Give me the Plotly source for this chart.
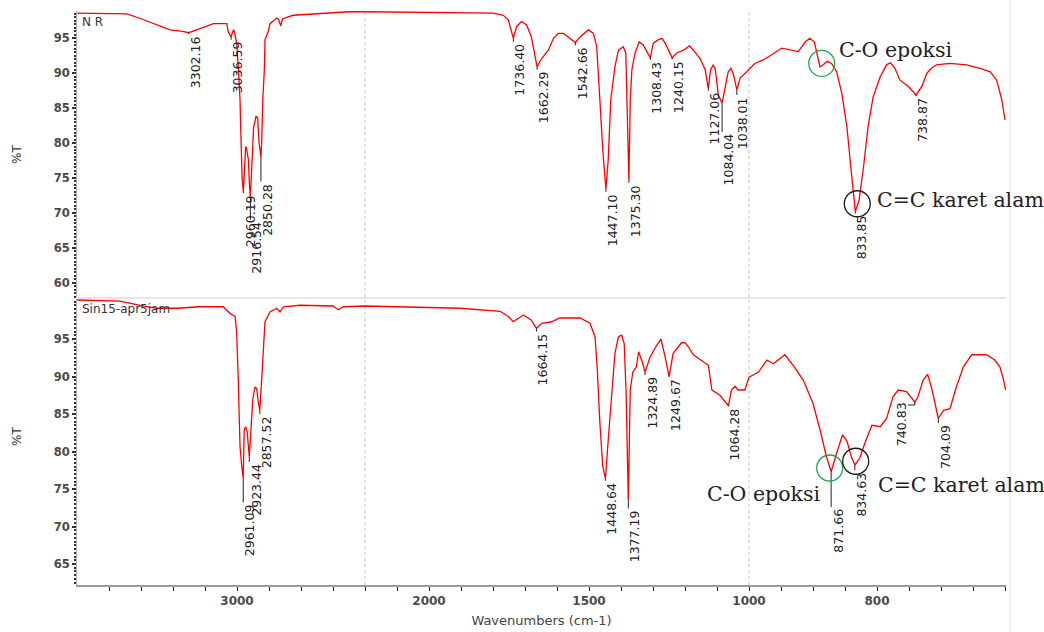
import numpy as np
import plotly.graph_objects as go

# ---------------- data ----------------
# NR spectrum: wavenumber (cm-1) and %T
nr_wn = [3998, 3850, 3689, 3600, 3502, 3419, 3340, 3302.16, 3231, 3148, 3064, 3054,
         3036.59, 3023, 3017, 3002, 2992, 2981, 2977, 2968, 2960.19, 2953, 2946, 2940,
         2929, 2922, 2916.54, 2910, 2902, 2896, 2881, 2871, 2862, 2850.28, 2845, 2839,
         2829, 2825, 2804, 2794, 2752, 2740, 2727, 2715, 2648, 2500, 2398, 2300, 2200,
         2028, 1872, 1799, 1768, 1752, 1736.40, 1726, 1711, 1695, 1680, 1662.29, 1648,
         1627, 1611, 1596, 1580, 1565, 1542.66, 1528, 1502, 1486, 1476, 1466, 1457,
         1447.10, 1440, 1432, 1419, 1408, 1393, 1385, 1382, 1375.30, 1371, 1366, 1356,
         1343, 1330, 1308.43, 1299, 1283, 1272, 1262, 1240.15, 1226, 1205, 1186, 1174,
         1153, 1137, 1127.06, 1120, 1112, 1105, 1096, 1084.04, 1075, 1065, 1056, 1049,
         1038.01, 1028, 1007, 991, 978, 965, 949, 936, 923, 912, 905, 898, 893, 889,
         884, 878, 871, 863, 855, 847, 841, 836, 833.85, 828, 821, 814, 806, 795, 785,
         779, 772, 764, 751, 738.87, 730, 722, 715, 707, 686, 660, 639, 623, 613, 605,
         600]
nr_t = [98.6, 98.6, 98.5, 97.8, 96.9, 96.2, 96.0, 95.8, 96.4, 97.1, 97.1, 95.9,
        95.2, 96.2, 96.0, 94.3, 90.9, 86.2, 82.3, 75.0, 73.0, 77.0, 79.5, 79.2,
        77.6, 74.0, 72.3, 75.5, 80.4, 82.3, 83.8, 83.6, 80.0, 78.0, 80.5, 86.2,
        90.5, 94.8, 96.0, 97.1, 97.9, 97.7, 96.8, 97.8, 98.3, 98.5, 98.6, 98.8, 98.8,
        98.7, 98.7, 98.6, 98.3, 97.6, 95.0, 96.7, 97.4, 96.9, 95.2, 90.9, 92.1,
        93.3, 95.0, 95.7, 95.7, 95.2, 94.4, 95.2, 96.2, 95.7, 93.8, 86.2, 79.0,
        73.4, 77.6, 86.2, 90.9, 93.3, 93.8, 92.9, 87.1, 74.6, 86.2, 90.5, 92.9,
        94.5, 94.0, 92.2, 94.3, 94.8, 95.0, 94.3, 92.2, 92.9, 93.3, 93.9, 93.3,
        92.1, 90.5, 87.8, 90.5, 91.2, 90.5, 86.9, 85.7, 88.1, 90.2, 90.7, 89.9,
        87.6, 89.3, 90.2, 91.4, 91.9, 92.6, 93.6, 93.3, 93.1, 94.5, 95.0, 94.5, 92.6, 90.9,
        91.2, 91.7, 91.4, 90.2, 87.1, 82.3, 76.6, 72.3, 70.2, 71.8, 76.6, 82.3, 86.6, 89.5, 91.2,
        91.5, 90.7, 89.0, 88.1, 86.9, 88.1, 90.0, 90.7, 91.2, 91.4, 91.2, 90.7, 90.2, 89.0, 86.2,
        83.3]

# Sin15-apr5jam spectrum
ep_wn = [3998, 3850, 3731, 3606, 3502, 3377, 3231, 3086, 3044, 3012, 3002, 2992,
         2981, 2970, 2961.09, 2955, 2946, 2936, 2923.44, 2915, 2902, 2888, 2877, 2867,
         2857.52, 2846, 2836, 2825, 2794, 2752, 2731, 2710, 2606, 2400, 2367, 2335,
         2200, 2091, 1903, 1778, 1752, 1737, 1721, 1705, 1680, 1664.15, 1648, 1617,
         1591, 1528, 1497, 1481, 1474, 1466, 1457, 1448.64, 1440, 1429, 1419, 1408,
         1398, 1390, 1384, 1377.19, 1371, 1363, 1352, 1345, 1334, 1324.89, 1309, 1288,
         1275, 1262, 1249.67, 1237, 1211, 1200, 1190, 1174, 1143, 1127, 1116, 1091,
         1064.28, 1055, 1044, 1034, 1013, 1000, 985, 972, 962, 944, 931, 915, 900,
         889, 879, 871.66, 863, 854, 847, 840, 834.63, 827, 819, 808, 795, 785, 775,
         767, 754, 740.83, 736, 728, 721, 715, 704.09, 696, 686, 676, 665, 652, 629,
         616, 608, 603, 599]
ep_t = [100.2, 100.1, 100.05, 99.5, 99.1, 99.1, 99.3, 99.3, 98.4, 98.0, 95.8, 89.5,
        80.6, 78.0, 76.4, 82.9, 83.3, 82.6, 79.3, 82.0, 86.9, 88.6, 88.4, 86.6,
        85.5, 89.5, 93.5, 97.3, 98.6, 99.1, 98.6, 99.3, 99.5, 99.4, 98.9, 99.3,
        99.4, 99.3, 99.1, 98.7, 98.0, 97.3, 97.8, 98.2, 97.5, 96.4, 97.1, 97.3,
        97.8, 97.8, 97.1, 95.3, 90.9, 83.8, 78.0, 76.4, 81.5, 88.2, 93.1, 95.3,
        95.5, 94.4, 87.8, 73.5, 88.2, 90.6, 91.3, 93.3, 92.0, 90.6, 92.6, 94.2,
        95.0, 92.6, 90.0, 93.1, 94.5, 94.5, 94.0, 92.9, 92.0, 91.5, 88.2, 87.5,
        86.1, 88.2, 88.7, 88.2, 88.2, 89.9, 90.6, 92.2, 91.7, 92.9, 91.5, 89.5, 86.4,
        82.9, 79.3, 77.3, 79.8, 82.2, 81.4, 79.3, 78.2, 79.1, 81.1, 83.5, 83.3, 84.4, 87.3,
        88.2, 88.0, 86.6, 87.3, 89.5, 90.3, 88.6, 84.4, 85.5, 85.7, 88.6, 91.3, 92.9, 92.9,
        92.2, 91.3, 89.8, 88.2]

# peak labels: text, %T at the peak, %T where the label starts
nr_peak_labels = ["3302.16", "3036.59", "2960.19", "2916.54", "2850.28", "1736.40",
                  "1662.29", "1542.66", "1447.10", "1375.30", "1308.43", "1240.15",
                  "1127.06", "1084.04", "1038.01", "833.85", "738.87"]
nr_peak_t = [95.8, 95.2, 73.0, 72.3, 78.0, 95.0, 90.9, 94.4, 73.4, 74.6, 92.2, 92.2,
             87.8, 85.7, 87.6, 70.2, 86.9]
nr_label_t = [95.6, 94.8, 72.8, 69.0, 74.5, 94.5, 90.5, 94.0, 73.0, 74.3, 91.9, 92.0,
              87.5, 81.6, 86.9, 69.9, 86.7]
nr_label_side = ["r"] * 17

ep_peak_labels = ["2961.09", "2923.44", "2857.52", "1664.15", "1448.64", "1377.19",
                  "1324.89", "1249.67", "1064.28", "871.66", "834.63", "740.83", "704.09"]
ep_peak_t = [76.4, 79.3, 85.5, 96.4, 76.4, 73.5, 90.6, 90.0, 86.1, 77.3, 78.2, 86.6, 84.4]
ep_label_t = [73.2, 78.6, 85.0, 96.0, 76.1, 72.4, 90.2, 89.9, 86.0, 72.6, 77.5, 86.2, 83.8]
ep_label_side = ["r"] * 11 + ["l", "r"]

# x-axis ticks (wavenumbers) and their labels
x_tick_wn = [3800, 3600, 3400, 3200, 3000, 2800, 2600, 2400, 2200, 2100, 2000, 1900,
             1800, 1700, 1600, 1500, 1400, 1300, 1200, 1100, 1000, 950, 900, 850, 800,
             750, 700, 650, 600]
x_tick_text = ["", "", "", "", "3000", "", "", "", "", "", "2000", "", "", "", "",
               "1500", "", "", "", "", "1000", "", "", "", "800", "", "", "", ""]
y_top_ticks = [60, 65, 70, 75, 80, 85, 90, 95]
y_bot_ticks = [65, 70, 75, 80, 85, 90, 95]

# highlighted bands (circles): wavenumber, %T, colour
nr_marks = [(886.4, 91.4, "green"), (830.8, 71.3, "black")]
ep_marks = [(873.9, 77.8, "green"), (833.3, 78.7, "black")]


# ---------------- piecewise wavenumber scale (as the instrument software) ----------------
def wn_to_u(w):
    w = np.asarray(w, dtype=float)
    return np.where(w >= 2200, (4000 - w) / 6.25,
                    np.where(w >= 1000, 288 + (2200 - w) / 3.125,
                             672 + (1000 - w) / 1.5625))


U_MAX = 929
RED = "#ff0000"
LBL_FONT = dict(family="DejaVu Sans", size=12.5, color="#222222")
SERIF = dict(family="DejaVu Serif", size=20.5, color="#222222")

fig = go.Figure()
fig.add_trace(go.Scatter(x=wn_to_u(nr_wn), y=nr_t, mode="lines",
                         line=dict(color=RED, width=1.3), xaxis="x", yaxis="y",
                         name="NR", showlegend=False))
fig.add_trace(go.Scatter(x=wn_to_u(ep_wn), y=ep_t, mode="lines",
                         line=dict(color=RED, width=1.3), xaxis="x2", yaxis="y2",
                         name="Sin15-apr5jam", showlegend=False))

shapes = []
annotations = []


def add_peak_labels(labels, peak_t, label_t, sides, xr, yr):
    for lbl, pt, lt, side in zip(labels, peak_t, label_t, sides):
        u = float(wn_to_u(float(lbl)))
        shapes.append(dict(type="line", xref=xr, yref=yr, x0=u, x1=u, y0=pt, y1=lt,
                           line=dict(color="#222222", width=1)))
        if side == "l":
            shapes.append(dict(type="line", xref=xr, yref=yr, x0=u - 7, x1=u, y0=lt, y1=lt,
                               line=dict(color="#222222", width=1)))
            annotations.append(dict(x=u - 7, y=lt + 0.7, xref=xr, yref=yr, text=lbl,
                                    textangle=-90, showarrow=False, xanchor="right",
                                    yanchor="top", font=LBL_FONT, xshift=3))
        else:
            annotations.append(dict(x=u, y=lt, xref=xr, yref=yr, text=lbl, textangle=-90,
                                    showarrow=False, xanchor="left", yanchor="top",
                                    font=LBL_FONT, xshift=-3))


add_peak_labels(nr_peak_labels, nr_peak_t, nr_label_t, nr_label_side, "x", "y")
add_peak_labels(ep_peak_labels, ep_peak_t, ep_label_t, ep_label_side, "x2", "y2")

colors = {"green": "#22a34f", "black": "#1a1a1a"}
for marks, xr, yr in ((nr_marks, "x", "y"), (ep_marks, "x2", "y2")):
    for w, t, c in marks:
        shapes.append(dict(type="circle", xref=xr, yref=yr, xsizemode="pixel",
                           ysizemode="pixel", xanchor=float(wn_to_u(w)), yanchor=t,
                           x0=-13, x1=13, y0=-13, y1=13,
                           line=dict(color=colors[c], width=1.3)))

# band names
annotations += [
    dict(x=float(wn_to_u(862.5)), y=93.3, xref="x", yref="y", text="C-O epoksi",
         showarrow=False, xanchor="left", yanchor="middle", font=SERIF),
    dict(x=float(wn_to_u(803)), y=71.8, xref="x", yref="y", text="C=C karet alam",
         showarrow=False, xanchor="left", yanchor="middle", font=SERIF),
    dict(x=float(wn_to_u(886.4)), y=74.3, xref="x2", yref="y2", text="C-O epoksi",
         showarrow=False, xanchor="right", yanchor="middle", font=SERIF),
    dict(x=float(wn_to_u(801.6)), y=75.5, xref="x2", yref="y2", text="C=C karet alam",
         showarrow=False, xanchor="left", yanchor="middle", font=SERIF),
]

# panel names and y titles
small = dict(family="DejaVu Sans", size=12, color="#333333")
ytitle_font = dict(family="DejaVu Sans", size=12, color="#333333")
annotations += [
    dict(x=0.003, y=0.96, xref="paper", yref="y domain", text="N R", showarrow=False,
         xanchor="left", yanchor="middle", font=small),
    dict(x=0.003, y=0.962, xref="paper", yref="y2 domain", text="Sin15-apr5jam",
         showarrow=False, xanchor="left", yanchor="middle", font=small),
    dict(x=-0.0646, y=0.5, xref="paper", yref="y domain", text="%T", textangle=-90,
         showarrow=False, xanchor="center", yanchor="middle", font=ytitle_font),
    dict(x=-0.0646, y=0.52, xref="paper", yref="y2 domain", text="%T", textangle=-90,
         showarrow=False, xanchor="center", yanchor="middle", font=ytitle_font),
]

# dashed scale-change lines and frame line
for w in (2200, 1000):
    shapes.append(dict(type="line", xref="x", yref="paper", x0=float(wn_to_u(w)),
                       x1=float(wn_to_u(w)), y0=0, y1=1,
                       line=dict(color="#bdbdbd", width=1, dash="3px,3px"), layer="below"))
shapes.append(dict(type="line", xref="paper", yref="paper", x0=1.0043, x1=1.0043,
                   y0=-0.09, y1=1.02, line=dict(color="#ececec", width=1.5)))

yaxis_common = dict(showgrid=False, zeroline=False, showline=True, linecolor="#b0b0b0",
                    linewidth=1, ticks="outside", ticklen=4, tickwidth=2,
                    tickcolor="#333333", automargin=False,
                    tickfont=dict(family="DejaVu Sans", size=11.5, color="#4a4a4a",
                                  weight="bold"),
                    minor=dict(dtick=0.5, ticks="outside", ticklen=2, tickwidth=2,
                               tickcolor="#333333", showgrid=False))

fig.update_layout(
    width=1044, height=632,
    margin=dict(l=77, r=38, t=11, b=47, autoexpand=False),
    paper_bgcolor="white", plot_bgcolor="white",
    showlegend=False,
    xaxis=dict(domain=[0, 1], anchor="y", range=[0, U_MAX], matches="x2",
               showticklabels=False, ticks="", showgrid=False, zeroline=False,
               showline=True, linecolor="#e6e6e6", linewidth=2, automargin=False),
    xaxis2=dict(domain=[0, 1], anchor="y2", range=[0, U_MAX], showgrid=False,
                zeroline=False, showline=True, linecolor="#9a9a9a", linewidth=2,
                automargin=False,
                tickmode="array", tickvals=[float(v) for v in wn_to_u(x_tick_wn)],
                ticktext=x_tick_text, ticks="outside", ticklen=4, tickwidth=1,
                tickcolor="#222222",
                tickfont=dict(family="DejaVu Sans", size=12, color="#4a4a4a",
                              weight="bold"),
                title=dict(text="Wavenumbers (cm-1)", standoff=8,
                           font=dict(family="DejaVu Sans", size=13, color="#444444"))),
    yaxis=dict(domain=[0.5017, 1], anchor="x", range=[57.94, 98.91],
               tickmode="array", tickvals=y_top_ticks, **yaxis_common),
    yaxis2=dict(domain=[0, 0.4991], anchor="x2", range=[62.2, 100.4],
                tickmode="array", tickvals=y_bot_ticks, **yaxis_common),
    shapes=shapes,
    annotations=annotations,
)

fig.write_html("out.html", config={"displayModeBar": False},
               post_script="document.body.style.margin='0px';")
